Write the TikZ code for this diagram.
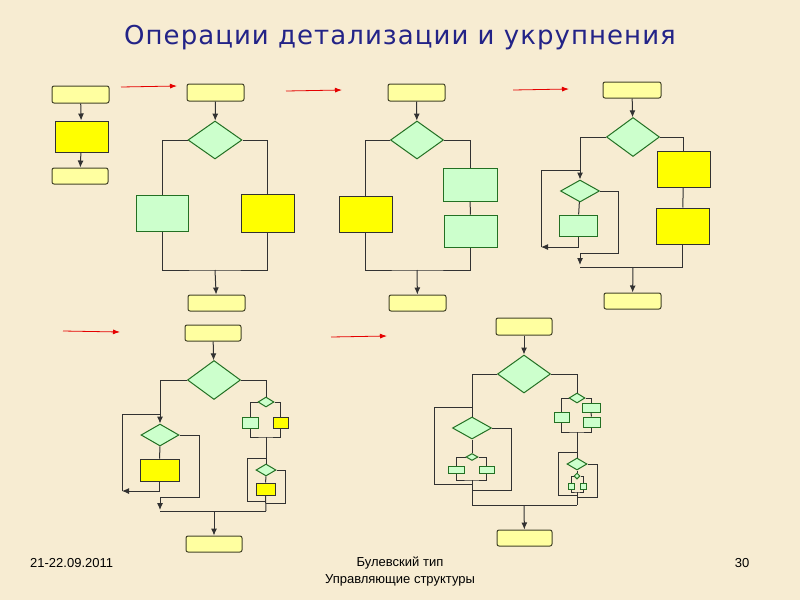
\documentclass[tikz,border=0pt]{standalone}
\usepackage{fontspec}
\setmainfont{Liberation Sans}
\newfontfamily\tfont[LetterSpace=4]{DejaVu Sans}
\usetikzlibrary{shapes.geometric,arrows.meta}
\definecolor{bg}{RGB}{247,236,210}
\definecolor{termc}{RGB}{255,255,160}
\definecolor{grn}{RGB}{204,255,204}
\definecolor{ylw}{RGB}{255,255,0}
\definecolor{lnc}{RGB}{50,50,50}
\definecolor{ttl}{RGB}{35,35,135}
\tikzset{
  term/.style={draw=lnc!80!olive,fill=termc,rounded corners=2pt,inner sep=0pt,line width=1pt},
  ybox/.style={draw=lnc,fill=ylw,inner sep=0pt,line width=1pt},
  gbox/.style={draw=lnc!70!green,fill=grn,inner sep=0pt,line width=1pt},
  dia/.style={diamond,draw=lnc!70!green,fill=grn,inner sep=0pt,line width=1pt},
  ln/.style={draw=lnc,line width=1pt},
  arr/.style={ln,-{Latex[length=7pt,width=6pt]}},
  redarr/.style={draw=red!90!black,line width=0.8pt,-{Latex[length=7pt,width=5pt]}},
  foot/.style={font=\fontsize{13}{15}\selectfont,inner sep=0pt}
}
\newcommand\bx[6]{\node[#1,minimum width={(#5-#3)*1pt},minimum height={(#6-#4)*1pt}] (#2) at ({(#3+#5)/2},{(#4+#6)/2}) {};}
\newcommand\dm[5]{\node[dia,minimum width={#4*1pt},minimum height={#5*1pt}] (#1) at (#2,#3) {};}
\begin{document}
\begin{tikzpicture}[x=1pt,y=-1pt]
\fill[bg] (0,0) rectangle (800,600);
\useasboundingbox (0,0) rectangle (800,600);
\node[text=ttl,font=\tfont\fontsize{26}{30}\selectfont] (title) at (400,38) {Операции детализации и укрупнения};
\node[foot,anchor=west] (date) at (30,563) {21-22.09.2011};
\node[foot] (f1) at (400,563) {Булевский тип};
\node[foot] (f2) at (400,580) {Управляющие структуры};
\node[foot] (pg) at (742,563) {30};
% red arrows
\coordinate (r1s) at (121,87); \coordinate (r1e) at (177,86);
\coordinate (r2s) at (286,91); \coordinate (r2e) at (342,90);
\coordinate (r3s) at (513,90); \coordinate (r3e) at (569,89);
\coordinate (r4s) at (63,331); \coordinate (r4e) at (120,332);
\coordinate (r5s) at (331,337); \coordinate (r5e) at (387,336);
\foreach \i in {1,...,5} {\draw[redarr] (r\i s) -- (r\i e);}
% D1
\bx{term}{a1}{52}{86}{109}{103}
\bx{ybox}{b1}{55}{121}{108}{152}
\bx{term}{c1}{52}{168}{108}{184}
\draw[arr] (a1) -- (b1); \draw[arr] (b1) -- (c1);
% D2
\bx{term}{a2}{187}{84}{244}{101}
\dm{d2}{215}{140}{54}{38}
\bx{gbox}{g2}{136}{195}{188}{231}
\bx{ybox}{y2}{241}{194}{294}{232}
\bx{term}{c2}{188}{295}{245}{311}
\coordinate (j2) at (215,270);
\draw[arr] (a2) -- (d2);
\draw[ln] (d2.west) -| (g2.north); \draw[ln] (d2.east) -| (y2.north);
\draw[ln] (g2.south) |- (j2) -| (y2.south);
\draw[arr] (j2) -- (c2);
% D3
\bx{term}{a3}{388}{84}{445}{101}
\dm{d3}{417}{140}{53}{38}
\bx{ybox}{y3}{339}{196}{392}{232}
\bx{gbox}{g3a}{443}{168}{497}{201}
\bx{gbox}{g3b}{444}{215}{497}{247}
\bx{term}{c3}{389}{295}{446}{311}
\coordinate (j3) at (417,270);
\draw[arr] (a3) -- (d3);
\draw[ln] (d3.west) -| (y3.north); \draw[ln] (d3.east) -| (g3a.north);
\draw[ln] (g3a) -- (g3b);
\draw[ln] (y3.south) |- (j3) -| (g3b.south);
\draw[arr] (j3) -- (c3);
% D4
\bx{term}{a4}{603}{82}{661}{98}
\dm{d4}{633}{137}{53}{39}
\dm{s4}{580}{191}{39}{22}
\bx{gbox}{g4}{559}{215}{597}{236}
\bx{ybox}{y4a}{657}{151}{710}{187}
\bx{ybox}{y4b}{656}{208}{709}{244}
\bx{term}{c4}{604}{293}{661}{309}
\coordinate (j4) at (633,267); \coordinate (l4) at (541,247); \coordinate (k4) at (580,170);
\coordinate (q4) at (580,267);
\draw[arr] (a4) -- (d4);
\draw[arr] (d4.west) -| (s4.north);
\draw[ln] (s4) -- (g4);
\draw[arr] (g4.south) |- (l4);
\draw[ln] (l4) |- (k4);
\draw[arr] (s4.east) -| (618,253) -- (580,253) -- (580,265);
\draw[ln] (q4) -| (y4b.south);
\draw[ln] (d4.east) -| (y4a.north); \draw[ln] (y4a) -- (y4b);
\draw[arr] (j4) -- (c4);
% D5
\bx{term}{a5}{185}{325}{241}{341}
\dm{d5}{214}{380}{53}{39}
\dm{s5}{160}{435}{38}{22}
\bx{ybox}{y5}{140}{459}{179}{481}
\bx{term}{c5}{186}{536}{242}{552}
\coordinate (l5) at (122,491); \coordinate (k5) at (160,414);
\coordinate (q5) at (160,511); \coordinate (r5) at (266,511); \coordinate (j5) at (214,511);
\draw[arr] (a5) -- (d5);
\draw[arr] (d5.west) -| (s5.north);
\draw[ln] (s5) -- (y5);
\draw[arr] (y5.south) |- (l5);
\draw[ln] (l5) |- (k5);
\draw[arr] (s5.east) -| (199,497) -- (160,497) -- (160,510);
\draw[ln] (q5) -- (r5);
\dm{t5}{266}{402}{16}{10}
\bx{gbox}{u5}{242}{417}{258}{428}
\bx{ybox}{v5}{273}{417}{288}{428}
\coordinate (w5) at (266,437);
\draw[ln] (d5.east) -| (t5.north);
\draw[ln] (t5.west) -| (u5.north); \draw[ln] (t5.east) -| (v5.north);
\draw[ln] (u5.south) |- (w5) -| (v5.south);
\dm{x5}{266}{470}{20}{12}
\bx{ybox}{z5}{256}{483}{275}{495}
\draw[ln] (w5) -- (x5.north);
\draw[ln] (266,458) -| (247,501) -- (266,501);
\draw[ln] (x5) -- (z5);
\draw[ln] (z5.south) -- (r5);
\draw[ln] (x5.east) -| (285,503) -- (266,503);
\draw[arr] (j5) -- (c5);
% D6
\bx{term}{a6}{496}{318}{552}{335}
\dm{d6}{524}{374}{53}{38}
\dm{s6}{472}{428}{39}{22}
\bx{term}{c6}{497}{530}{552}{546}
\draw[arr] (a6) -- (d6);
\draw[ln] (d6.west) -| (s6.north);
\draw[ln] (472,407) -| (434,484) -- (472,484);
\dm{t6}{472}{457}{12}{7}
\bx{gbox}{u6}{448}{466}{464}{473}
\bx{gbox}{v6}{479}{466}{494}{473}
\draw[ln] (s6) -- (t6);
\draw[ln] (t6.west) -| (u6.north); \draw[ln] (t6.east) -| (v6.north);
\draw[ln] (u6.south) |- (472,480) -| (v6.south);
\draw[ln] (472,480) -- (472,505);
\draw[ln] (s6.east) -| (511,490) -- (472,490);
\draw[ln] (472,505) -- (577,505);
\dm{r6}{577}{398}{16}{10}
\bx{gbox}{e6}{554}{412}{569}{422}
\bx{gbox}{g6a}{582}{403}{600}{412}
\bx{gbox}{g6b}{583}{417}{600}{427}
\draw[ln] (d6.east) -| (r6.north);
\draw[ln] (r6.west) -| (e6.north); \draw[ln] (r6.east) -| (g6a.north);
\draw[ln] (g6a) -- (g6b);
\draw[ln] (e6.south) |- (577,432) -| (g6b.south);
\dm{f6}{577}{464}{20}{12}
\draw[ln] (577,432) -- (f6.north);
\draw[ln] (577,452) -| (558,495) -- (577,495);
\draw[ln] (f6.east) -| (597,497) -- (577,497);
\dm{h6}{577}{476}{6}{6}
\bx{gbox}{i6}{568}{483}{574}{489}
\bx{gbox}{k6}{580}{483}{586}{489}
\draw[ln] (f6) -- (h6);
\draw[ln] (h6.west) -| (i6.north); \draw[ln] (h6.east) -| (k6.north);
\draw[ln] (i6.south) |- (577,492) -| (k6.south);
\draw[ln] (577,492) -- (577,505);
\draw[arr] (524,505) -- (c6);
\end{tikzpicture}
\end{document}
